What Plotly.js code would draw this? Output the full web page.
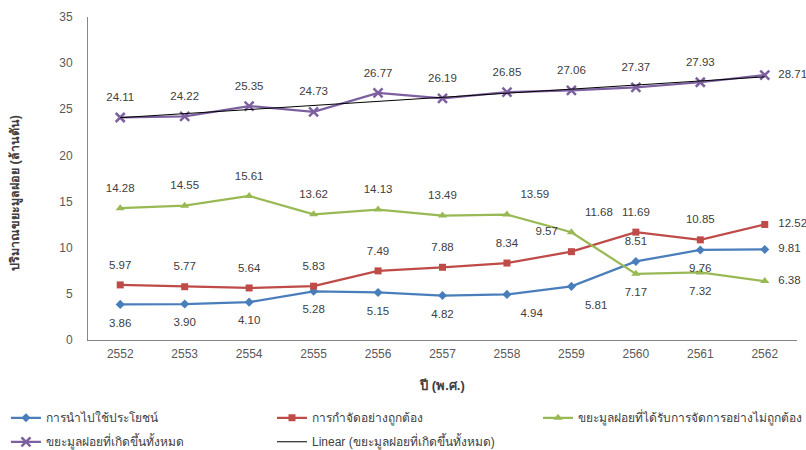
<!DOCTYPE html>
<html><head><meta charset="utf-8">
<script src="https://cdn.plot.ly/plotly-3.0.1.min.js"></script>
<style>body{margin:0;background:#fff}#c{width:806px;height:450px}</style>
</head><body><div id="c"></div>
<script>
const years = ['2552','2553','2554','2555','2556','2557','2558','2559','2560','2561','2562'];
const reused = [3.86,3.90,4.10,5.28,5.15,4.82,4.94,5.81,8.51,9.76,9.81];
const properDisposal = [5.97,5.77,5.64,5.83,7.49,7.88,8.34,9.57,11.69,10.85,12.52];
const improper = [14.28,14.55,15.61,13.62,14.13,13.49,13.59,11.68,7.17,7.32,6.38];
const total = [24.11,24.22,25.35,24.73,26.77,26.19,26.85,27.06,27.37,27.93,28.71];
const names = ['การนำไปใช้ประโยชน์','การกำจัดอย่างถูกต้อง','ขยะมูลฝอยที่ได้รับการจัดการอย่างไม่ถูกต้อง','ขยะมูลฝอยที่เกิดขึ้นทั้งหมด','Linear (ขยะมูลฝอยที่เกิดขึ้นทั้งหมด)'];
const yTicks = [0,5,10,15,20,25,30,35];
const xTitle = 'ปี (พ.ศ.)';
const yTitle = 'ปริมาณขยะมูลฝอย (ล้านตัน)';

const posBlue = ['bottom center','bottom center','bottom center','bottom center','bottom center','bottom center','bottom right','bottom right','top center','bottom center','middle right'];
const posRed = ['top center','top center','top center','top center','top center','top center','top center','top left','top center','top center','middle right'];
const posGreen = ['top center','top center','top center','top center','top center','top center','top right','top right','bottom center','bottom center','middle right'];
const posPurple = ['top center','top center','top center','top center','top center','top center','top center','top center','top center','top center','middle right'];

// least-squares trendline of total (as Excel "Linear")
const n = total.length;
const xs = total.map((_, i) => i);
const mx = xs.reduce((a,b)=>a+b,0)/n, my = total.reduce((a,b)=>a+b,0)/n;
let sxy=0, sxx=0; xs.forEach((x,i)=>{sxy+=(x-mx)*(total[i]-my); sxx+=(x-mx)*(x-mx);});
const slope = sxy/sxx, icpt = my - slope*mx;
const trend = xs.map(x => icpt + slope*x);

const font = 'Liberation Sans, Arial, sans-serif';
function series(y, name, color, symbol, size, legend) {
  return {x: years, y, name, legend, type:'scatter', mode:'lines+markers', cliponaxis:false,
    line:{color, width:2.25}, marker:{color, symbol, size, line:{color, width: symbol==='x-thin'?2.5:0}}};
}
function labels(y, pos) {
  return {x: years, y, type:'scatter', mode:'markers+text', text: y.map(v=>v.toFixed(2)), cliponaxis:false,
    textposition: pos, marker:{size:20, opacity:0}, showlegend:false, hoverinfo:'skip',
    textfont:{family:font, size:11.5, color:'#404040'}};
}
const data = [
  series(reused, names[0], '#4A7EBB', 'diamond', 7, 'legend'),
  series(properDisposal, names[1], '#BE4B48', 'square', 7, 'legend2'),
  series(improper, names[2], '#98B954', 'triangle-up', 8, 'legend3'),
  series(total, names[3], '#7D60A0', 'x-thin', 9, 'legend4'),
  {x: years, y: trend, name: names[4], legend:'legend5', type:'scatter', mode:'lines', line:{color:'#000', width:1}},
  labels(reused, posBlue), labels(properDisposal, posRed), labels(improper, posGreen), labels(total, posPurple)
];
function leg(x, y) {
  return {orientation:'v', x, xanchor:'left', y, yanchor:'top', itemwidth:30,
    font:{size:12, color:'#404040'}, bgcolor:'rgba(0,0,0,0)'};
}
const col = [-0.1157, 0.2595, 0.6347];
const row = [-0.196, -0.2702];
const layout = {
  width:806, height:450, margin:{l:88, r:9, t:17, b:110, autoexpand:false},
  paper_bgcolor:'#fff', plot_bgcolor:'#fff',
  font:{family:font, size:12, color:'#595959'},
  xaxis:{type:'category', range:[-0.5,10.5], showline:true, linecolor:'#868686', linewidth:1,
    ticks:'', showgrid:false, zeroline:false, tickfont:{size:12, color:'#595959'}, ticklabelstandoff:3,
    title:{text:'<b>'+xTitle+'</b>', font:{size:13, color:'#404040'}, standoff:20}},
  yaxis:{range:[0,35], tickvals:yTicks, showline:true, linecolor:'#868686', linewidth:1,
    ticks:'', showgrid:false, zeroline:false, tickfont:{size:12, color:'#595959'}, ticklabelstandoff:12},
  annotations:[{text:'<b>'+yTitle+'</b>', xref:'paper', yref:'paper', x:-0.103, y:0.455,
    xanchor:'center', yanchor:'middle', textangle:-90, showarrow:false, font:{size:12.5, color:'#404040'}}],
  legend: leg(col[0], row[0]),
  legend2: leg(col[1], row[0]),
  legend3: leg(col[2], row[0]),
  legend4: leg(col[0], row[1]),
  legend5: leg(col[1], row[1]),
  showlegend:true
};
Plotly.newPlot('c', data, layout, {displayModeBar:false, staticPlot:true});
</script></body></html>
